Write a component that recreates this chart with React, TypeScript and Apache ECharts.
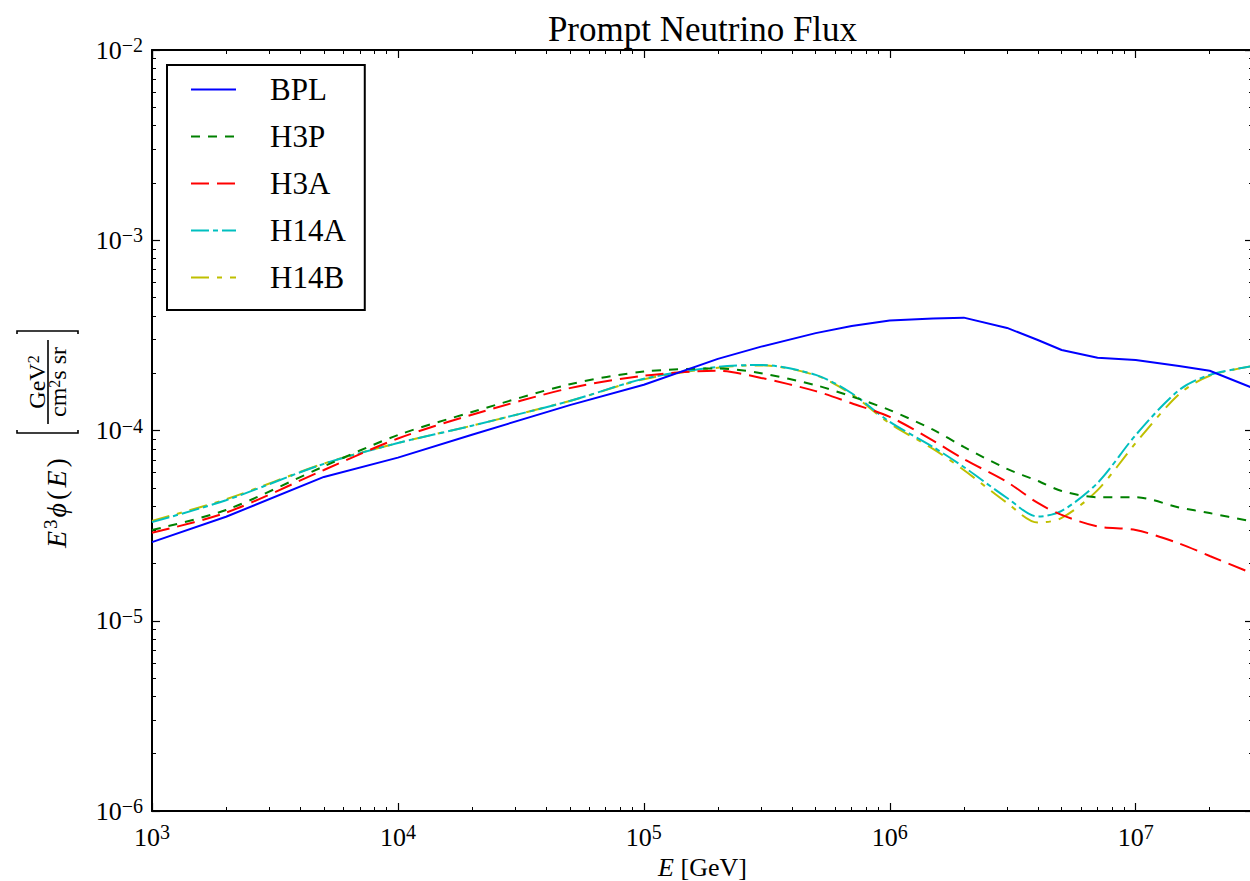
import React, { useEffect, useRef } from 'react';
import * as echarts from 'echarts';

const FONT = 'Liberation Serif';

// Energies (GeV) at which the curves were read
const energies = [1e3, 2e3, 5e3, 1e4, 2e4, 5e4, 1e5, 2e5, 3e5, 5e5, 7e5, 1e6, 1.5e6, 2e6, 3e6, 4e6, 5e6, 7e6, 1e7, 1.5e7, 2e7, 3e7];

// E^3 phi(E) in GeV^2 / (cm^2 s sr)
const bpl = [2.59e-5, 3.52e-5, 5.7e-5, 7.2e-5, 9.5e-5, 1.36e-4, 1.74e-4, 2.38e-4, 2.76e-4, 3.25e-4, 3.54e-4, 3.79e-4, 3.88e-4, 3.92e-4, 3.46e-4, 2.99e-4, 2.65e-4, 2.41e-4, 2.35e-4, 2.18e-4, 2.06e-4, 1.67e-4];
const h3p = [3.0e-5, 3.82e-5, 6.48e-5, 9.46e-5, 1.25e-4, 1.75e-4, 2.04e-4, 2.12e-4, 2.0e-4, 1.73e-4, 1.51e-4, 1.28e-4, 1.01e-4, 8.2e-5, 6.28e-5, 5.43e-5, 4.81e-5, 4.46e-5, 4.46e-5, 3.94e-5, 3.68e-5, 3.32e-5];
const h3a = [2.9e-5, 3.7e-5, 6.2e-5, 9.08e-5, 1.21e-4, 1.67e-4, 1.94e-4, 2.06e-4, 1.89e-4, 1.61e-4, 1.39e-4, 1.18e-4, 8.85e-5, 7.08e-5, 5.36e-5, 4.16e-5, 3.6e-5, 3.13e-5, 3.0e-5, 2.55e-5, 2.19e-5, 1.77e-5];
const h14a = [3.3e-5, 4.3e-5, 6.68e-5, 8.59e-5, 1.06e-4, 1.43e-4, 1.87e-4, 2.16e-4, 2.21e-4, 1.96e-4, 1.57e-4, 1.11e-4, 8.19e-5, 6.43e-5, 4.42e-5, 3.53e-5, 3.78e-5, 5.3e-5, 9.46e-5, 1.63e-4, 1.96e-4, 2.18e-4];
const h14b = [3.35e-5, 4.35e-5, 6.7e-5, 8.6e-5, 1.06e-4, 1.43e-4, 1.86e-4, 2.14e-4, 2.2e-4, 1.95e-4, 1.55e-4, 1.09e-4, 8.0e-5, 6.2e-5, 4.16e-5, 3.28e-5, 3.47e-5, 4.86e-5, 8.59e-5, 1.55e-4, 1.94e-4, 2.18e-4];

const seriesNames = ['BPL', 'H3P', 'H3A', 'H14A', 'H14B'];
const seriesValues = [bpl, h3p, h3a, h14a, h14b];
const seriesColors = ['#0000ff', '#008000', '#ff0000', '#00bfbf', '#bfbf00'];
const seriesDashes: any[] = ['solid', [9, 8], [18, 8], [18, 4, 5, 4], [18, 8, 5, 8]];
const seriesSmooth = [false, 0.3, 0.3, 0.3, 0.3];

// Axis ranges and tick positions
const xMin = 1e3;
const xMax = 3e7;
const yMin = 1e-6;
const yMax = 1e-2;
const xDecades = [3, 4, 5, 6, 7];
const yDecades = [-6, -5, -4, -3];
const minorMultipliers = [2, 3, 4, 5, 6, 7, 8, 9];

function minorExps(decades: number[], lo: number, hi: number) {
  const out: number[] = [];
  decades.forEach((d) => {
    minorMultipliers.forEach((m) => {
      const v = d + Math.log10(m);
      if (v > lo && v < hi) out.push(v);
    });
  });
  return out;
}

const tickRich = {
  b: { fontFamily: FONT, fontSize: 26, lineHeight: 30, color: '#000' },
  s: { fontFamily: FONT, fontSize: 20, lineHeight: 17, verticalAlign: 'top', color: '#000' },
};

function expLabel(v: number) {
  const l = Math.log10(v);
  const e = Math.round(l);
  if (Math.abs(l - e) > 1e-6) return '';
  const s = e < 0 ? '\u2212' + -e : String(e);
  return '{b|10}{s|' + s + '}';
}

export default function App() {
  const ref = useRef<HTMLDivElement>(null);

  useEffect(() => {
    if (!ref.current) return;
    const chart = echarts.init(ref.current, null, { renderer: 'svg' });

    const lxMin = Math.log10(xMin);
    const lxMax = Math.log10(xMax);
    const lyMin = Math.log10(yMin);
    const lyMax = Math.log10(yMax);
    const xMinor = minorExps(xDecades, lxMin, lxMax);
    const yMinor = minorExps(yDecades, lyMin, lyMax);

    const lineCol = '#000';
    const majorTick = { show: true, inside: true, length: 8, lineStyle: { color: lineCol, width: 1.2 } };
    const minorTickStyle = { color: lineCol, width: 1 };

    const logX = (pos: string, main: boolean) => ({
      type: 'log',
      min: xMin,
      max: xMax,
      position: pos,
      axisLine: { show: true, onZero: false, lineStyle: { color: lineCol, width: 2 } },
      axisTick: majorTick,
      axisLabel: main
        ? { show: true, margin: 11, formatter: expLabel, rich: tickRich, hideOverlap: false }
        : { show: false },
      splitLine: { show: false },
      ...(main
        ? {
            name: '{i|E} [GeV]',
            nameLocation: 'middle',
            nameGap: 37,
            nameTextStyle: {
              fontFamily: FONT,
              fontSize: 26,
              lineHeight: 26,
              color: '#000',
              rich: {
                i: { fontFamily: FONT, fontSize: 26, lineHeight: 26, fontStyle: 'italic', color: '#000' },
              },
            },
          }
        : {}),
    });
    const minorX = (pos: string) => ({
      type: 'value',
      min: lxMin,
      max: lxMax,
      position: pos,
      axisLine: { show: false, onZero: false },
      axisTick: { show: true, inside: true, length: 4, customValues: xMinor, lineStyle: minorTickStyle },
      axisLabel: { show: false },
      splitLine: { show: false },
    });
    const logY = (pos: string, main: boolean) => ({
      type: 'log',
      min: yMin,
      max: yMax,
      position: pos,
      axisLine: { show: true, onZero: false, lineStyle: { color: lineCol, width: 2 } },
      axisTick: majorTick,
      axisLabel: main
        ? { show: true, margin: 9, formatter: expLabel, rich: tickRich, hideOverlap: false }
        : { show: false },
      splitLine: { show: false },
    });
    const minorY = (pos: string) => ({
      type: 'value',
      min: lyMin,
      max: lyMax,
      position: pos,
      axisLine: { show: false, onZero: false },
      axisTick: { show: true, inside: true, length: 4, customValues: yMinor, lineStyle: minorTickStyle },
      axisLabel: { show: false },
      splitLine: { show: false },
    });

    const series = seriesNames.map((name, i) => ({
      name,
      type: 'line',
      xAxisIndex: 0,
      yAxisIndex: 0,
      data: energies.map((e, j) => [e, seriesValues[i][j]]),
      symbol: 'none',
      showSymbol: false,
      smooth: seriesSmooth[i],
      lineStyle: { color: seriesColors[i], width: 2, type: seriesDashes[i] },
      itemStyle: { color: seriesColors[i] },
      z: 10 - i,
    }));

    const fracRich = {
      n: { fontFamily: FONT, fontSize: 24, lineHeight: 24, color: '#000' },
      s: { fontFamily: FONT, fontSize: 16, lineHeight: 13, verticalAlign: 'top', color: '#000' },
    };

    const option: any = {
      animation: false,
      backgroundColor: '#fff',
      title: {
        text: 'Prompt Neutrino Flux',
        left: 702.5,
        top: 12,
        textAlign: 'center',
        padding: 0,
        textStyle: { fontFamily: FONT, fontSize: 35, fontWeight: 'normal', color: '#000' },
      },
      legend: {
        orient: 'vertical',
        left: 167,
        top: 65,
        padding: [9, 19, 17, 23],
        itemWidth: 45,
        itemHeight: 20,
        itemGap: 16,
        borderColor: '#000',
        borderWidth: 2,
        borderRadius: 0,
        backgroundColor: '#fff',
        itemStyle: { opacity: 0, borderWidth: 0 },
        textStyle: { fontFamily: FONT, fontSize: 31, color: '#000', padding: [0, 0, 0, 29] },
        data: seriesNames,
        z: 20,
      },
      grid: {
        left: 152,
        right: -3,
        top: 50,
        bottom: 70,
        containLabel: false,
        outerBoundsMode: 'none',
      },
      xAxis: [logX('bottom', true), minorX('bottom'), logX('top', false), minorX('top')],
      yAxis: [logY('left', true), minorY('left'), logY('right', false), minorY('right')],
      series,
      graphic: [
        {
          type: 'group',
          x: 0,
          y: 550,
          rotation: Math.PI / 2,
          children: [
            {
              type: 'text',
              x: 0,
              y: 56,
              style: {
                text: '{i|E}{s|3}{i|\u03d5}{n|(}{i|E}{n|)}',
                align: 'left',
                verticalAlign: 'middle',
                rich: {
                  i: { fontFamily: FONT, fontSize: 28, fontStyle: 'italic', lineHeight: 30, color: '#000', padding: [0, 2, 0, 2] },
                  n: { fontFamily: FONT, fontSize: 28, lineHeight: 30, color: '#000', padding: [0, 1, 0, 1] },
                  s: { fontFamily: FONT, fontSize: 19, lineHeight: 16, verticalAlign: 'top', color: '#000' },
                },
              },
            },
            {
              type: 'polyline',
              shape: { points: [[120, 17], [117, 17], [117, 78], [120, 78]] },
              style: { stroke: '#000', lineWidth: 1.6, fill: null },
            },
            {
              type: 'polyline',
              shape: { points: [[216, 17], [219, 17], [219, 78], [216, 78]] },
              style: { stroke: '#000', lineWidth: 1.6, fill: null },
            },
            {
              type: 'line',
              shape: { x1: 126, y1: 48, x2: 210, y2: 48 },
              style: { stroke: '#000', lineWidth: 1.6 },
            },
            {
              type: 'text',
              x: 168,
              y: 37,
              style: { text: '{n|GeV}{s|2}', align: 'center', verticalAlign: 'middle', rich: fracRich },
            },
            {
              type: 'text',
              x: 168,
              y: 58,
              style: { text: '{n|cm}{s|2}{n|s sr}', align: 'center', verticalAlign: 'middle', rich: fracRich },
            },
          ],
        },
      ],
    };

    chart.setOption(option);
    return () => {
      chart.dispose();
    };
  }, []);

  return (
    <div
      ref={ref}
      style={{ position: 'fixed', left: 0, top: 0, width: 1250, height: 881, background: '#fff' }}
    />
  );
}
